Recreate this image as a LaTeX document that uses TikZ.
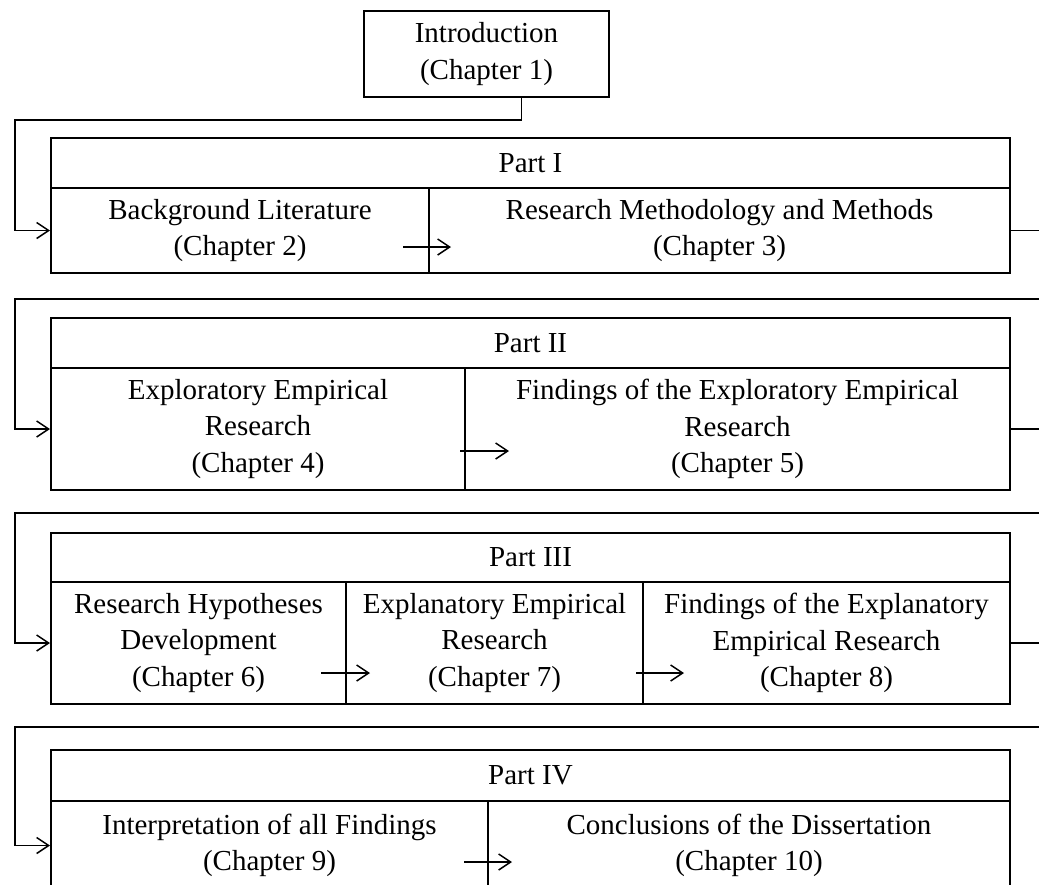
\documentclass[tikz,border=0pt]{standalone}
\usepackage{fontspec}
\setmainfont{Liberation Serif}
\usetikzlibrary{arrows.meta,calc}
\begin{document}
\begin{tikzpicture}[x=0.5pt,y=-0.5pt,
  box/.style={draw, line width=1pt, inner sep=0pt, align=center,
    font=\fontsize{14.5}{18.2}\selectfont},
  flow/.style={line width=0.75pt,
    -{Straight Barb[length=6pt,width=8pt,line width=0.75pt]}}]
\useasboundingbox (0,0) rectangle (1039,884);
\clip (0,0) rectangle (1039,884);
\fill[white] (0,0) rectangle (1039,884);

% Introduction
\node[box, minimum width=122.5pt, minimum height=43pt] (intro) at (486.5,54) {Introduction\\(Chapter 1)};

% Part I
\node[box, minimum width=479.5pt, minimum height=25pt] (h1) at (530.5,163) {Part I};
\node[box, minimum width=189pt, minimum height=42.5pt] (p1a) at (240,230.5) {Background Literature\\(Chapter 2)};
\node[box, minimum width=290.5pt, minimum height=42.5pt] (p1b) at (719.5,230.5) {Research Methodology and Methods\\(Chapter 3)};

% Part II
\node[box, minimum width=479.5pt, minimum height=25pt] (h2) at (530.5,343) {Part II};
\node[box, minimum width=207pt, minimum height=61pt] (p2a) at (258,429) {Exploratory Empirical\\Research\\(Chapter 4)};
\node[box, minimum width=272.5pt, minimum height=61pt] (p2b) at (737.5,429) {Findings of the Exploratory Empirical\\Research\\(Chapter 5)};

% Part III
\node[box, minimum width=479.5pt, minimum height=24.5pt] (h3) at (530.5,557.5) {Part III};
\node[box, minimum width=147.5pt, minimum height=61pt] (p3a) at (198.5,643) {Research Hypotheses\\Development\\(Chapter 6)};
\node[box, minimum width=148.5pt, minimum height=61pt] (p3b) at (494.5,643) {Explanatory Empirical\\Research\\(Chapter 7)};
\node[box, minimum width=183.5pt, minimum height=61pt] (p3c) at (826.5,643) {Findings of the Explanatory\\Empirical Research\\(Chapter 8)};

% Part IV
\node[box, minimum width=479.5pt, minimum height=25.5pt] (h4) at (530.5,775.5) {Part IV};
\node[box, minimum width=218.5pt, minimum height=44.5pt] (p4a) at (269.5,845.5) {Interpretation of all Findings\\(Chapter 9)};
\node[box, minimum width=261pt, minimum height=44.5pt] (p4b) at (749,845.5) {Conclusions of the Dissertation\\(Chapter 10)};

% Links between parts
\coordinate (t1) at (15,120);
\draw[flow] ($(intro.south)+(35,0)$) |- (t1) |- (p1a.west);

\coordinate (r1) at (1060,299); \coordinate (t2) at (15,299);
\draw[flow] (p1b.east) -| (r1) -- (t2) |- (p2a.west);

\coordinate (r2) at (1060,513); \coordinate (t3) at (15,513);
\draw[flow] (p2b.east) -| (r2) -- (t3) |- (p3a.west);

\coordinate (r3) at (1060,727); \coordinate (t4) at (15,727);
\draw[flow] (p3c.east) -| (r3) -- (t4) |- (p4a.west);

% Links between chapters within a part
\draw[flow] ($(p1a.east)+(-27,16.5)$) -- ($(p1b.west)+(23,16.5)$);
\draw[flow] ($(p2a.east)+(-6,22)$) -- ($(p2b.west)+(45,22)$);
\draw[flow] ($(p3a.east)+(-26,30)$) -- ($(p3b.west)+(25,30)$);
\draw[flow] ($(p3b.east)+(-8,30)$) -- ($(p3c.west)+(42,30)$);
\draw[flow] ($(p4a.east)+(-25,16.5)$) -- ($(p4b.west)+(25,16.5)$);
\end{tikzpicture}
\end{document}
